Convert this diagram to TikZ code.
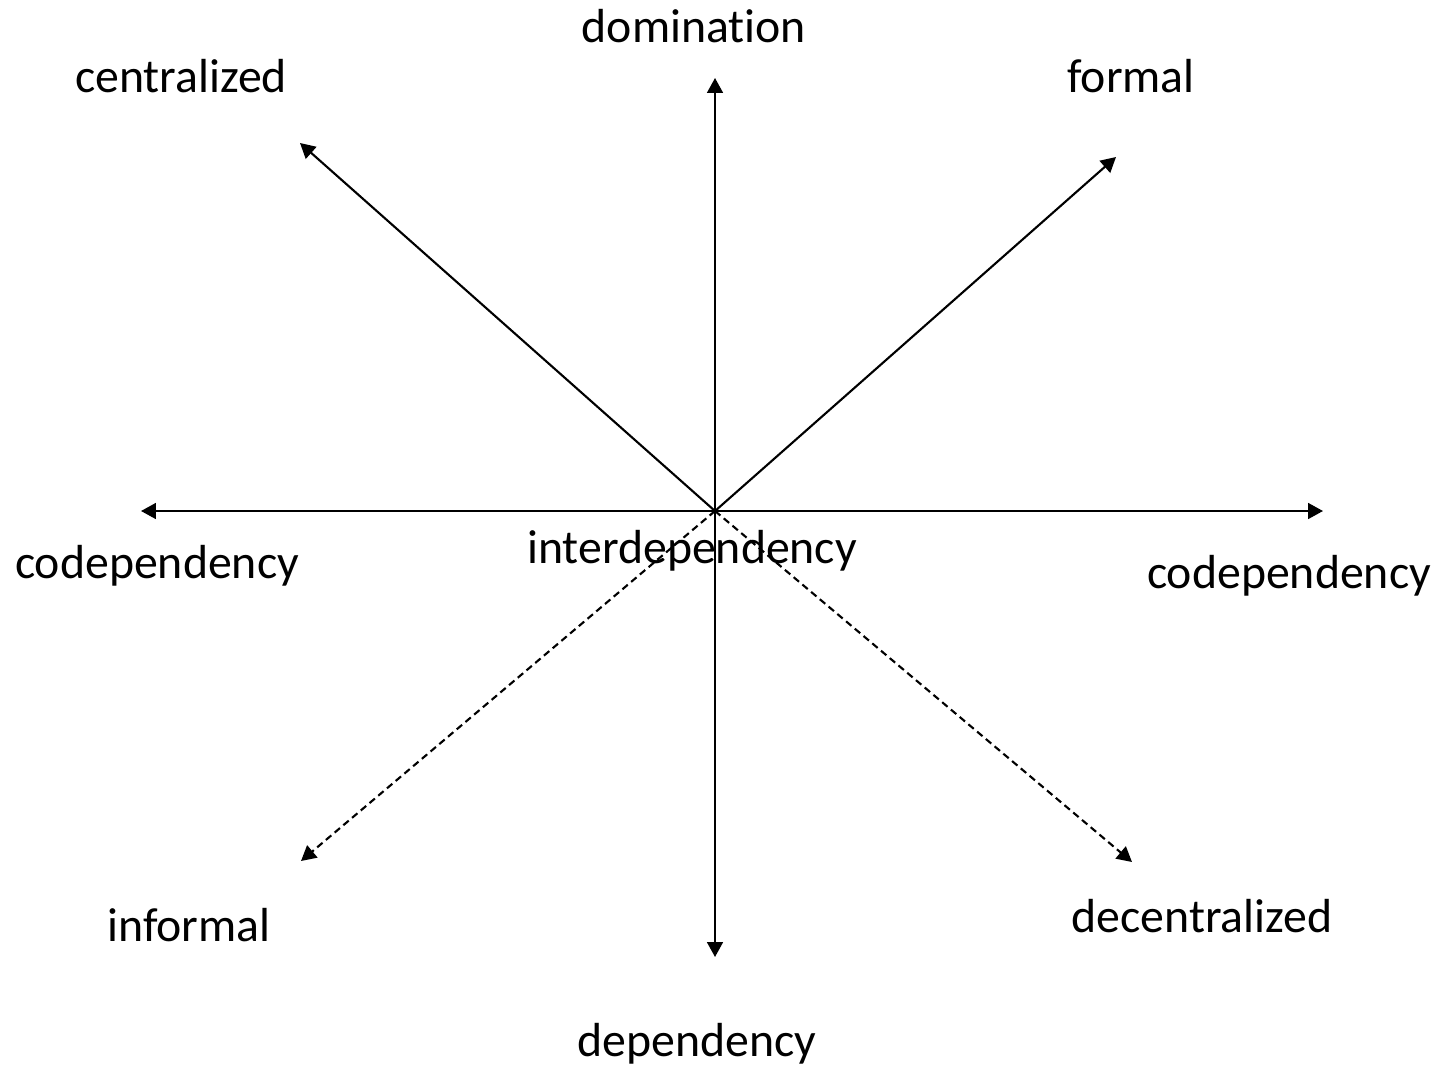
\documentclass[tikz,border=0pt]{standalone}
\usepackage{fontspec}
\setmainfont[Ligatures=CommonOff]{Carlito}
\usetikzlibrary{arrows.meta}

\begin{document}
\begin{tikzpicture}[x=0.02cm,y=-0.02cm,
    axis/.style={line width=1.2pt,-{Triangle[length=8.5pt,width=9pt]}},
    dashaxis/.style={axis,dash pattern=on 4pt off 2.5pt},
    lbl/.style={anchor=base,inner sep=0pt,font=\fontsize{27.2}{32}\selectfont}]
      \useasboundingbox (0,0) rectangle (1452,1068);
      \coordinate (o) at (715,511);
      \coordinate (up) at (715,78);
      \coordinate (down) at (715,957);
      \coordinate (left) at (141,511);
      \coordinate (right) at (1323,511);
      \coordinate (nw) at (300,143);
      \coordinate (ne) at (1116,157);
      \coordinate (sw) at (301,861);
      \coordinate (se) at (1132,862);
      \foreach \t in {up,down,left,right,nw,ne}
      \draw[axis] (o) -- (\t);
      \foreach \t in {sw,se}
      \draw[dashaxis] (o) -- (\t);
      \node[lbl] (dom) at (694,43) {domination};
      \node[lbl] (cent) at (181,92) {centralized};
      \node[lbl] (form) at (1131,92) {formal};
      \node[lbl] (codepl) at (157,578) {codependency};
      \node[lbl] (inter) at (692,563) {interdependency};
      \node[lbl] (codepr) at (1289,588) {codependency};
      \node[lbl] (inform) at (189,941) {informal};
      \node[lbl] (decent) at (1202,932) {decentralized};
      \node[lbl] (dep) at (697,1056) {dependency};
    \end{tikzpicture}
\end{document}
